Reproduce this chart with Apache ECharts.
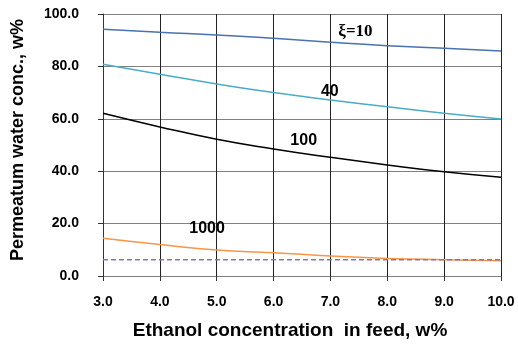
<!DOCTYPE html>
<html>
<head>
<meta charset="utf-8">
<script src="https://cdn.jsdelivr.net/npm/echarts@6/dist/echarts.min.js"></script>
<style>
  html, body { margin: 0; padding: 0; background: #fff; }
  #main { width: 518px; height: 345px; }
</style>
</head>
<body>
<div id="main"></div>
<script>
var feed = [3, 4, 5, 6, 7, 8, 9, 10];
var xi10 = [94.2, 93.0, 92.0, 90.7, 89.2, 87.9, 86.9, 85.9];
var xi40 = [80.8, 77.0, 73.3, 70.0, 67.2, 64.6, 62.1, 59.9];
var xi100 = [62.1, 56.9, 52.2, 48.5, 45.3, 42.4, 39.8, 37.7];
var xi1000 = [14.4, 12.0, 9.9, 8.9, 7.6, 6.7, 6.2, 5.8];
var limit = 6.2;

function pairs(ys) {
  return feed.map(function (x, i) { return [x, ys[i]]; });
}

// curve name written next to each curve
function tag(text, x, y, size, font) {
  return {
    symbol: 'circle',
    symbolSize: 1,
    silent: true,
    itemStyle: { color: 'rgba(0,0,0,0)' },
    data: [{
      coord: [x, y],
      label: {
        show: true, formatter: text, position: 'inside',
        color: '#000', fontSize: size, fontWeight: 'bold',
        fontFamily: font || 'Liberation Sans, Arial, sans-serif'
      }
    }]
  };
}

var chartDom = document.getElementById('main');
var myChart = echarts.init(chartDom);

var option = {
  animation: false,
  grid: { left: 103, right: 17, top: 14, bottom: 69, outerBoundsMode: 'none', containLabel: false },
  xAxis: {
    type: 'value', min: 3, max: 10, interval: 1,
    name: 'Ethanol concentration  in feed, w%',
    nameLocation: 'middle', nameGap: 45,
    nameTextStyle: {
      fontSize: 19, fontWeight: 'bold', color: '#000', fontFamily: 'Liberation Sans, Arial',
      padding: [0, 24, 0, 0]
    },
    axisLine: { lineStyle: { color: '#808080' } },
    axisTick: { show: true, length: 5, lineStyle: { color: '#333' } },
    axisLabel: {
      fontSize: 14, fontWeight: 'bold', color: '#000', margin: 19,
      fontFamily: 'Liberation Sans, Arial',
      formatter: function (v) { return v.toFixed(1); }
    },
    splitLine: { show: true, lineStyle: { color: '#222', width: 1 } }
  },
  yAxis: {
    type: 'value', min: 0, max: 100, interval: 20,
    name: 'Permeatum water conc., w%',
    nameLocation: 'middle', nameGap: 76,
    nameTextStyle: {
      fontSize: 18, fontWeight: 'bold', color: '#000', fontFamily: 'Liberation Sans, Arial',
      padding: [0, 0, 0, 10]
    },
    axisLine: { show: true, lineStyle: { color: '#333' } },
    axisTick: { show: true, length: 5, lineStyle: { color: '#333' } },
    axisLabel: {
      fontSize: 14, fontWeight: 'bold', color: '#000', margin: 24,
      fontFamily: 'Liberation Sans, Arial',
      formatter: function (v) { return v.toFixed(1); }
    },
    splitLine: { show: true, lineStyle: { color: '#808080', width: 1 } }
  },
  series: [
    {
      name: '10', type: 'line', smooth: true, showSymbol: false,
      lineStyle: { color: '#4a72b0', width: 1.5 },
      data: pairs(xi10),
      markPoint: tag('ξ=10', 7.44, 93.3, 17, 'Liberation Serif, Times New Roman, serif')
    },
    {
      name: '40', type: 'line', smooth: true, showSymbol: false,
      lineStyle: { color: '#4bacc6', width: 1.5 },
      data: pairs(xi40),
      markPoint: tag('40', 6.99, 70.4, 16)
    },
    {
      name: '100', type: 'line', smooth: true, showSymbol: false,
      lineStyle: { color: '#000', width: 1.5 },
      data: pairs(xi100),
      markPoint: tag('100', 6.53, 51.7, 16)
    },
    {
      name: '1000', type: 'line', smooth: true, showSymbol: false,
      lineStyle: { color: '#f79646', width: 1.5 },
      data: pairs(xi1000),
      markPoint: tag('1000', 4.83, 18.1, 16)
    },
    {
      name: 'limit', type: 'line', showSymbol: false,
      lineStyle: { color: '#8a72b8', width: 1.5, type: [5, 3] },
      data: [[3, limit], [10, limit]]
    }
  ]
};

option && myChart.setOption(option);
</script>
</body>
</html>
